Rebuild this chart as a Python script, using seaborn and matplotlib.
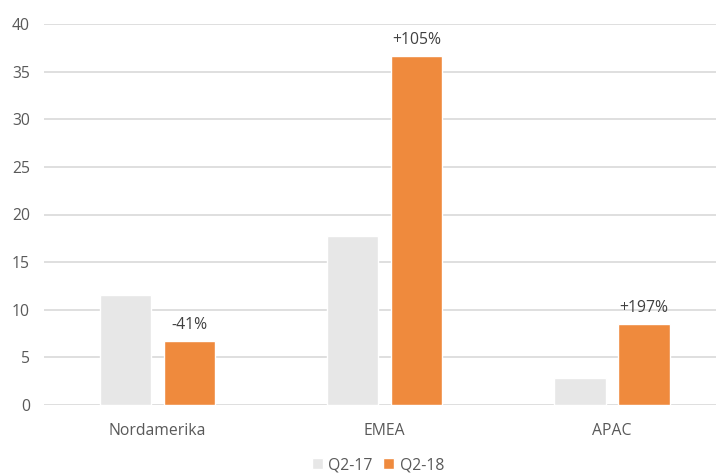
import pandas as pd
import matplotlib
matplotlib.use("Agg")
import matplotlib.pyplot as plt
import seaborn as sns

regions = ["Nordamerika", "EMEA", "APAC"]
periods = ["Q2-17", "Q2-18"]
q2_17 = [11.5, 17.7, 2.8]
q2_18 = [6.7, 36.6, 8.5]
change_labels = ["-41%", "+105%", "+197%"]

COLORS = {
    "Q2-17": "#e7e7e7",
    "Q2-18": "#ef8a3d",
    "grid" : "#dcdcdc",
    "text" : "#595959",
}

sns.set_theme(style="white")
plt.rcParams.update({
    "font.family": ["Open Sans", "DejaVu Sans"],
    "font.size"  : 11.3,
})

df = pd.DataFrame({
    "region": regions * 2,
    "period": [periods[0]] * 3 + [periods[1]] * 3,
    "value" : q2_17 + q2_18,
})

fig = plt.figure(figsize=(7.16, 4.75), dpi=100)
ax = fig.add_axes([44 / 716, 1 - 405 / 475, 672 / 716, 381 / 475])

sns.barplot(
    data=df, x="region", y="value", hue="period",
    palette=COLORS, width=0.563, gap=0.2,
    saturation=1, ax=ax, legend=True
)

ax.set_ylim(0, 40)
ax.set_xlim(-0.5, 2.458)
ax.set_yticks(range(0, 41, 5))
ax.yaxis.grid(True, color=COLORS["grid"], linewidth=1.3)
ax.set_axisbelow(True)
for s in ax.spines.values():
    s.set_visible(False)
ax.set_xlabel("")
ax.set_ylabel("")
ax.tick_params(axis="y", length=0, pad=10, colors=COLORS["text"], labelsize=11.3)
ax.tick_params(axis="x", length=0, pad=13, colors=COLORS["text"], labelsize=11.3)

ax.bar_label(ax.containers[1], labels=change_labels, padding=6,
             color="#404040", fontsize=11.3)

handles, labels = ax.get_legend_handles_labels()
ax.legend(
    handles, labels, ncol=2, frameon=False,
    loc="center", bbox_to_anchor=(378 / 716, 1 - 465 / 475),
    bbox_transform=fig.transFigure,
    handlelength=0.7, handleheight=0.7, handletextpad=0.35,
    columnspacing=0.7, labelcolor=COLORS["text"], fontsize=11.3,
)

fig.savefig("out.png", dpi=100, facecolor="white")
plt.close(fig)
